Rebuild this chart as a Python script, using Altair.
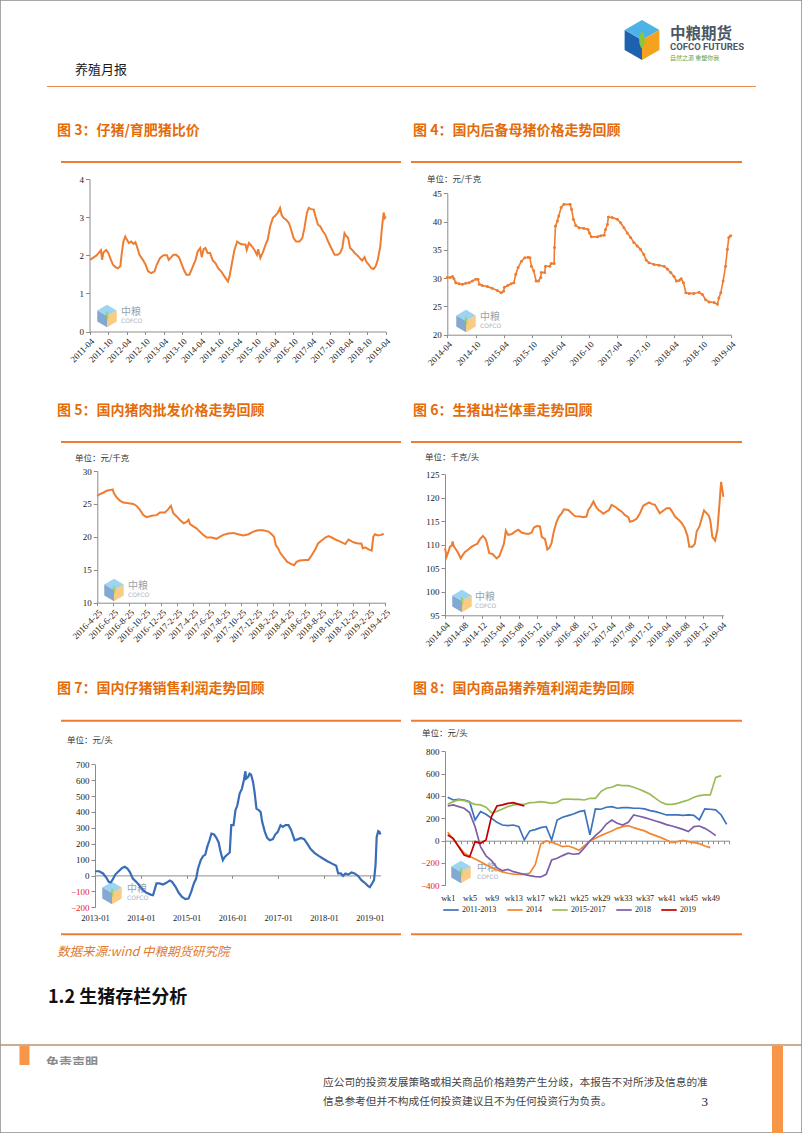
import altair as alt
import pandas as pd

W, H = 802, 1133
SERIF = "Liberation Serif"
CJK = "Noto Sans CJK SC"
AX = "#8C8C8C"
LBL = "#222222"
RED_LBL = "#E8202A"
ORANGE = "#EE7D31"
TITLE_C = "#E46C0A"

# ---------------- data ----------------
# Fig 3: piglet / fattening pig price ratio (x: months since 2011-04)
f3_m = [0.2, 1.1, 2.2, 3.0, 3.7, 4.1, 4.5, 5.4, 6.1, 6.7,
        7.6, 8.4, 9.2, 10.0, 10.4, 11.0, 11.6, 12.1, 12.8, 13.5,
        14.3, 14.9, 15.4, 16.2, 17.3, 18.2, 19.0, 20.0, 21.1, 21.8,
        22.9, 24.0, 25.1, 25.7, 26.5, 27.2, 28.1, 29.0, 29.8, 30.6,
        31.4, 32.4, 33.3, 34.4, 35.1, 35.9, 36.4, 37.0, 37.6, 38.3,
        39.1, 40.0, 40.9, 41.7, 42.7, 43.8, 44.9, 45.4, 46.2, 47.0,
        47.9, 48.9, 49.7, 50.6, 51.0, 51.7, 52.5, 53.5, 54.3, 54.7,
        55.4, 56.2, 57.1, 57.8, 58.6, 59.5, 60.3, 61.1, 61.8, 62.3,
        62.9, 63.8, 64.7, 65.4, 66.2, 67.0, 68.1, 69.0, 69.7, 70.5,
        71.1, 71.9, 72.7, 73.3, 74.1, 74.8, 75.7, 76.5, 77.4, 78.4,
        79.5, 80.5, 81.3, 82.0, 82.7, 83.2, 83.9, 84.5, 85.2, 86.0,
        86.7, 87.6, 88.4, 89.2, 89.7, 90.6, 91.4, 92.1, 92.8, 93.5,
        94.3, 94.9, 95.4, 95.8, 96.1]
f3_v = [1.88, 1.93, 1.99, 2.06, 2.13, 1.88, 2.07, 2.14, 2.06, 1.93,
        1.75, 1.69, 1.66, 1.71, 2.01, 2.36, 2.49, 2.41, 2.32, 2.36,
        2.30, 2.34, 2.23, 2.01, 1.88, 1.75, 1.58, 1.53, 1.58, 1.75,
        1.93, 2.00, 2.00, 1.88, 1.95, 2.01, 2.01, 1.95, 1.79, 1.62,
        1.49, 1.49, 1.66, 1.88, 2.10, 2.19, 1.95, 2.16, 2.19, 2.06,
        2.06, 1.86, 1.79, 1.66, 1.58, 1.44, 1.31, 1.44, 1.79, 2.14,
        2.36, 2.30, 2.28, 2.28, 2.14, 2.32, 2.25, 2.14, 2.01, 2.16,
        1.93, 2.07, 2.28, 2.41, 2.76, 2.98, 3.04, 3.12, 3.24, 3.06,
        2.98, 2.93, 2.84, 2.67, 2.45, 2.36, 2.36, 2.45, 2.71, 3.11,
        3.24, 3.21, 3.20, 3.02, 2.80, 2.76, 2.63, 2.54, 2.36, 2.19,
        2.01, 2.01, 2.06, 2.19, 2.58, 2.51, 2.45, 2.19, 2.14, 2.06,
        2.01, 1.93, 1.86, 1.95, 1.84, 1.75, 1.66, 1.64, 1.71, 1.88,
        2.23, 2.76, 3.12, 2.98, 3.02]
f3_ticks = ["2011-04", "2011-10", "2012-04", "2012-10", "2013-04", "2013-10",
            "2014-04", "2014-10", "2015-04", "2015-10", "2016-04", "2016-10",
            "2017-04", "2017-10", "2018-04", "2018-10", "2019-04"]

# Fig 4: gilt price (x: months since 2014-04)
f4_m = [0, 0.6, 1.1, 1.4, 1.8, 2.5, 3.2, 3.9, 4.6, 5.3,
        6.0, 6.5, 6.8, 7.4, 8.5, 9.5, 10.6, 11.4, 11.9, 12.1,
        12.8, 13.5, 14.1, 14.5, 15.0, 15.7, 16.4, 17.1, 17.5, 17.8,
        18.3, 18.8, 19.3, 19.8, 19.9, 20.6, 20.8, 21.7, 22.0, 22.6,
        22.7, 22.9, 23.3, 23.6, 24.1, 24.7, 26.0, 26.3, 26.7, 27.2,
        27.9, 28.9, 29.8, 30.1, 30.5, 31.8, 32.5, 33.2, 33.5, 33.9,
        34.1, 34.9, 36.0, 36.7, 37.4, 38.1, 38.8, 39.5, 40.2, 40.9,
        41.6, 42.1, 42.7, 43.8, 44.8, 45.9, 46.6, 47.3, 48.0, 48.5,
        49.1, 49.5, 50.0, 50.5, 51.2, 52.2, 53.3, 54.0, 54.7, 55.4,
        56.5, 57.2, 57.5, 57.9, 58.4, 58.9, 59.3, 59.6, 60.0]
f4_v = [30.1, 30.1, 30.3, 29.9, 29.2, 29.0, 28.9, 29.1, 29.2, 29.5,
        29.8, 29.8, 28.9, 28.7, 28.5, 28.2, 27.8, 27.4, 27.7, 28.4,
        28.7, 29.0, 29.2, 30.7, 31.9, 33.0, 33.6, 33.7, 33.6, 32.1,
        31.3, 29.5, 29.5, 30.1, 31.0, 31.0, 32.1, 32.1, 32.6, 32.6,
        35.4, 39.2, 40.1, 41.0, 42.5, 43.05, 43.05, 42.2, 40.4, 39.3,
        38.9, 38.8, 38.6, 38.0, 37.3, 37.3, 37.5, 37.6, 38.6, 39.5,
        40.8, 40.7, 40.4, 39.8, 38.9, 38.0, 37.2, 36.3, 35.7, 35.1,
        34.2, 33.2, 32.7, 32.4, 32.3, 32.1, 31.6, 31.0, 30.3, 29.5,
        29.6, 29.9, 29.2, 27.4, 27.3, 27.3, 27.5, 27.1, 26.2, 25.8,
        25.7, 25.4, 26.5, 27.4, 29.5, 32.1, 35.1, 37.2, 37.5]
f4_ticks = ["2014-04", "2014-10", "2015-04", "2015-10", "2016-04", "2016-10",
            "2017-04", "2017-10", "2018-04", "2018-10", "2019-04"]

# Fig 5: pork wholesale price (x: months since 2016-4-25)
f5_m = [0, 0.33, 0.75, 1.17, 1.58, 1.92, 2.08, 2.42, 2.83, 3.25,
        3.88, 4.5, 4.92, 5.33, 5.75, 6.17, 6.79, 7.42, 7.83, 8.46,
        8.88, 9.2, 9.5, 9.92, 10.3, 10.8, 11.2, 11.4, 11.6, 12.0,
        12.4, 12.8, 13.25, 13.7, 14.3, 14.9, 15.3, 15.75, 16.4, 17.0,
        17.6, 18.25, 18.9, 19.5, 20.1, 20.75, 21.4, 21.8, 22.1, 22.3,
        22.6, 22.9, 23.3, 23.75, 24.2, 24.6, 24.9, 25.3, 26.0, 26.4,
        26.8, 27.2, 27.6, 28.0, 28.5, 28.9, 29.3, 29.75, 30.3, 31.0,
        31.4, 31.8, 32.2, 32.6, 33.0, 33.2, 33.5, 33.9, 34.3, 34.5,
        34.7, 35.1, 35.5, 35.8]
f5_v = [26.2, 26.5, 26.7, 27.0, 27.1, 27.2, 26.6, 26.0, 25.5, 25.2,
        25.1, 25.0, 24.7, 24.1, 23.3, 23.0, 23.2, 23.3, 23.7, 23.7,
        24.2, 24.7, 23.6, 23.1, 22.6, 22.05, 22.3, 22.6, 21.95, 21.6,
        21.3, 20.8, 20.3, 19.9, 19.9, 19.7, 20.0, 20.3, 20.5, 20.6,
        20.4, 20.2, 20.4, 20.8, 21.0, 21.0, 20.8, 20.4, 20.0, 18.8,
        18.25, 17.5, 16.9, 16.2, 15.9, 15.7, 16.2, 16.4, 16.5, 16.5,
        17.2, 18.0, 19.0, 19.4, 19.9, 20.1, 19.9, 19.6, 19.3, 18.9,
        19.6, 19.3, 19.1, 19.0, 19.0, 18.25, 18.4, 18.1, 17.9, 20.0,
        20.4, 20.2, 20.3, 20.5]
f5_ticks = ["2016-4-25", "2016-6-25", "2016-8-25", "2016-10-25", "2016-12-25",
            "2017-2-25", "2017-4-25", "2017-6-25", "2017-8-25", "2017-10-25",
            "2017-12-25", "2018-2-25", "2018-4-25", "2018-6-25", "2018-8-25",
            "2018-10-25", "2018-12-25", "2019-2-25", "2019-4-25"]

# Fig 6: slaughter weight (x: months since 2014-04)
f6_m = [0, 0.36, 0.72, 1.08, 1.45, 1.66, 1.95, 2.39, 2.9, 3.4,
        3.83, 4.34, 5.06, 5.78, 6.5, 7.0, 7.6, 8.2, 8.7, 9.0,
        9.6, 10.3, 11.2, 11.8, 12.3, 12.8, 13.2, 13.7, 14.5, 15.2,
        15.9, 16.6, 17.35, 18.1, 18.8, 19.3, 19.9, 20.6, 21.0, 21.7,
        22.2, 22.6, 23.1, 23.6, 24.2, 24.8, 25.3, 25.8, 26.75, 27.5,
        28.2, 29.3, 30.0, 30.7, 31.1, 31.6, 32.2, 32.75, 33.3, 33.8,
        34.35, 35.1, 35.6, 36.15, 36.9, 37.6, 38.3, 39.0, 39.8, 40.1,
        40.85, 41.6, 42.3, 43.0, 43.7, 44.3, 44.8, 45.55, 46.1, 46.6,
        47.4, 48.1, 48.8, 49.4, 49.9, 50.6, 51.3, 52.05, 52.6, 53.0,
        53.7, 54.2, 54.6, 55.2, 55.7, 56.2, 56.8, 57.3, 57.6, 58.0,
        58.6, 59.1, 59.5, 59.9, 60.4]
f6_v = [109.3, 107.5, 108.5, 109.6, 109.8, 110.7, 109.6, 109.0, 108.2, 107.1,
        107.8, 108.5, 109.0, 109.6, 110.0, 110.2, 111.2, 111.9, 111.4, 110.7,
        108.2, 108.05, 107.1, 107.6, 108.9, 110.3, 113.0, 112.1, 112.3, 112.8,
        113.2, 112.6, 112.4, 112.3, 112.6, 113.7, 114.0, 113.9, 111.7, 111.2,
        109.0, 109.3, 110.3, 112.8, 114.9, 116.1, 116.7, 117.55, 117.4, 116.7,
        116.1, 116.0, 115.85, 116.0, 117.4, 118.1, 119.2, 118.1, 117.4, 117.1,
        116.6, 117.1, 117.4, 118.5, 118.1, 117.55, 117.1, 116.35, 115.85, 114.9,
        115.1, 115.6, 116.7, 118.3, 118.7, 119.0, 118.7, 118.5, 117.55, 116.7,
        117.3, 117.8, 117.8, 116.85, 116.0, 115.4, 114.7, 113.5, 111.9, 109.6,
        109.6, 110.2, 112.8, 113.9, 115.6, 117.3, 116.7, 116.1, 114.9, 111.7,
        110.9, 113.2, 118.1, 123.4, 120.2]
f6_ticks = ["2014-04", "2014-08", "2014-12", "2015-04", "2015-08", "2015-12",
            "2016-04", "2016-08", "2016-12", "2017-04", "2017-08", "2017-12",
            "2018-04", "2018-08", "2018-12", "2019-04"]

# Fig 7: piglet sales profit (x: months since 2013-01)
f7_m = [0, 1.1, 2.1, 3.0, 3.6, 4.1, 4.7, 5.3, 6.2, 7.1,
        7.8, 8.5, 9.1, 9.9, 10.8, 11.7, 12.6, 13.5, 14.6, 15.2,
        15.6, 16.1, 16.9, 17.8, 18.7, 19.6, 20.2, 21.1, 21.9, 22.8,
        23.7, 24.5, 25.2, 25.9, 26.5, 27.0, 27.7, 28.3, 28.9, 29.4,
        30.0, 30.5, 31.2, 31.8, 32.4, 32.9, 33.5, 34.0, 34.7, 35.3,
        35.7, 36.3, 36.8, 37.3, 37.9, 38.5, 39.0, 39.4, 39.6, 40.1,
        40.5, 40.9, 41.4, 41.8, 42.3, 42.9, 43.4, 43.8, 44.5, 45.1,
        45.8, 46.6, 47.2, 47.9, 48.6, 49.2, 49.9, 50.7, 51.4, 52.3,
        53.2, 54.0, 54.8, 55.6, 56.5, 57.5, 58.6, 59.7, 60.9, 62.1,
        63.2, 63.7, 64.4, 65.0, 65.6, 66.3, 67.2, 68.0, 68.9, 69.8,
        70.6, 71.5, 72.0, 72.6, 73.1, 73.5, 73.8, 74.2, 74.5, 74.8]
f7_v = [27, 27, 13, -15, -40, -44, -23, 6, 27, 48,
        55, 44, 23, -19, -40, -65, -92, -109, -120, -124,
        -92, -50, -50, -57, -46, -31, -40, -71, -107, -134,
        -149, -145, -103, -50, -19, 44, 96, 122, 132, 180,
        222, 264, 258, 237, 208, 149, 96, 117, 132, 145,
        317, 317, 411, 442, 516, 547, 600, 656, 610, 620,
        641, 635, 589, 526, 421, 411, 400, 338, 275, 237,
        222, 229, 258, 275, 317, 306, 317, 317, 285, 222,
        229, 237, 229, 201, 166, 143, 124, 107, 90, 75,
        61, 13, 13, -2, 13, 6, 19, 13, -2, -29,
        -44, -65, -73, -50, -29, 65, 243, 279, 275, 258]
f7_ticks = ["2013-01", "2014-01", "2015-01", "2016-01", "2017-01", "2018-01", "2019-01"]

# Fig 8: hog farming profit by week
f8_names = ["2011-2013", "2014", "2015-2017", "2018", "2019"]
f8_colors = ["#3D73BD", "#F4862F", "#9BBB59", "#7D5EA8", "#C00000"]
s_2011_2013 = [388, 364, 370, 364, 349, 185, 260, 236, 200, 164,
               140, 134, 140, 125, 6, 87, 99, 116, 125, 6,
               185, 209, 224, 239, 260, 269, 51, 284, 281, 299,
               305, 290, 296, 296, 290, 290, 284, 269, 260, 245,
               230, 230, 230, 227, 230, 227, 185, 284, 281, 275,
               230, 146]
s_2014 = [75, 10, -50, -110, -140, -165, -190, -215, -240, -262,
          -280, -292, -300, -303, -302, -290, -215, -30, -3, -15,
          -33, -54, -48, -63, -87, -45, -3, 21, 45, 66,
          87, 110, 125, 134, 116, 101, 87, 63, 45, 27,
          6, -18, -9, 3, -9, -18, -27, -48, -63]
s_2015_2017 = [325, 349, 364, 358, 343, 325, 320, 299, 250, 262,
               284, 305, 320, 325, 325, 340, 343, 349, 343, 334,
               343, 370, 373, 370, 370, 364, 379, 379, 439, 469,
               478, 499, 493, 493, 478, 460, 439, 415, 379, 343,
               325, 325, 334, 349, 364, 388, 403, 409, 409, 567,
               582]
s_2018 = [310, 320, 305, 290, 251, 125, -54, -137, -179, -242,
          -269, -257, -278, -290, -302, -314, -322, -325, -302, -173,
          -158, -134, -113, -122, -116, -63, -3, 45, 87, 149,
          185, 155, 140, 164, 230, 218, 206, 191, 176, 161,
          143, 131, 116, 101, 81, 125, 131, 110, 81, 45]
s_2019 = [51, 21, -54, -128, -146, -9, -24, 6, 215, 310,
          320, 334, 340, 325, 310]
f8_series = [s_2011_2013, s_2014, s_2015_2017, s_2018, s_2019]

# ---------------- helpers ----------------
one = pd.DataFrame({"k": [0]})
layers = []


def text(s, x, y, size, color="#222222", font=CJK, weight="normal",
         align="left", baseline="middle", style="normal", opacity=1.0):
    layers.append(
        alt.Chart(pd.DataFrame({"t": [s]}))
        .mark_text(align=align, baseline=baseline, font=font, fontSize=size,
                   fontWeight=weight, fontStyle=style, color=color, opacity=opacity)
        .encode(x=alt.value(x), y=alt.value(y), text="t:N")
    )


def hline(x1, x2, y, color, width):
    layers.append(
        alt.Chart(one).mark_rule(color=color, strokeWidth=width)
        .encode(x=alt.value(x1), x2=alt.value(x2), y=alt.value(y))
    )


def box(x1, x2, y1, y2, color):
    layers.append(
        alt.Chart(one).mark_rect(color=color)
        .encode(x=alt.value(x1), x2=alt.value(x2), y=alt.value(y1), y2=alt.value(y2))
    )


FACES = [
    ("M-0.87,-0.5L0,0L0,1L-0.87,0.5Z", "#1D62AE"),
    ("M0,-1L0.87,-0.5L0,0L-0.87,-0.5Z", "#4DB3E6"),
    ("M0,0L0.87,-0.5L0.87,0.5L0,1Z", "#F5A21E"),
    ("M0,-0.75C0.32,-0.3 0.32,0.3 0,0.75C-0.32,0.3 -0.32,-0.3 0,-0.75Z", "#8CC63F"),
]


def cube(cx, cy, size, opacity):
    for i, (path, col) in enumerate(FACES):
        sz = size * (0.35 if i == 3 else 1.0)
        layers.append(
            alt.Chart(one).mark_point(shape=path, filled=True, color=col,
                                      strokeWidth=0, size=sz, opacity=opacity)
            .encode(x=alt.value(cx), y=alt.value(cy))
        )


def watermark(cx, cy, tx):
    cube(cx, cy, 500, 0.55)
    text("中粮", tx, cy - 4, 10, color="#7F8C99", opacity=0.8)
    text("COFCO", tx, cy + 5, 6, color="#8FA0B0", font="DejaVu Sans", opacity=0.8)


def sc(dom, rng):
    return alt.Scale(domain=dom, range=rng, nice=False, zero=False)


def yax(xpx, vals, size=9, neg_red=False):
    color = LBL
    if neg_red:
        color = {"condition": {"test": "datum.value < 0", "value": RED_LBL}, "value": LBL}
    return alt.Axis(orient="left", offset=-xpx, values=vals, title=None, grid=False,
                    domainColor=AX, domainWidth=1, tickColor=AX, tickWidth=1, tickSize=4,
                    labelFont=SERIF, labelFontSize=size, labelColor=color, labelPadding=2,
                    labelFlush=False, labelOverlap=False)


def lab_expr(labels, start, step):
    arr = ",".join("'" + s + "'" for s in labels)
    return "[" + arr + "][round((datum.value - " + str(start) + ") / " + str(step) + ")]"


def xax(ypx, vals, expr, angle=-45, size=9, pad=2, tick=3, loff=0):
    kw = dict(orient="bottom", offset=ypx - H, values=vals, title=None, grid=False,
              domainColor=AX, domainWidth=1, tickColor=AX, tickWidth=1, tickSize=tick,
              labelFont=SERIF, labelFontSize=size, labelColor=LBL, labelPadding=pad,
              labelFlush=False, labelOverlap=False, labelExpr=expr, labelOffset=loff,
              labelAngle=angle)
    if angle != 0:
        kw["labelAlign"] = "right"
    return alt.Axis(**kw)


def series(m, v, xs, ys, x_axis, y_axis, color, width):
    df = pd.DataFrame({"m": m, "v": v})
    return alt.Chart(df).mark_line(color=color, strokeWidth=width).encode(
        x=alt.X("m:Q", scale=xs, axis=x_axis),
        y=alt.Y("v:Q", scale=ys, axis=y_axis),
    )


# ---------------- page decoration ----------------
text("养殖月报", 75, 70, 13, color="#1A1A1A")
hline(47, 756, 86.5, "#EC8A4A", 1.2)
cube(642, 40, 1600, 1.0)
text("中粮期货", 670, 33.5, 15.5, color="#4B5866", weight="bold")
text("COFCO FUTURES", 670, 47, 9.5, color="#4B5866", font="Roboto", weight="bold")
text("自然之源   重塑你我", 670, 57.5, 6, color="#6BA34A")

# titles and rules
text("图 3：仔猪/育肥猪比价", 57, 131, 14, color=TITLE_C, weight="bold")
text("图 4：国内后备母猪价格走势回顾", 413, 131, 14, color=TITLE_C, weight="bold")
text("图 5：国内猪肉批发价格走势回顾", 57, 411, 14, color=TITLE_C, weight="bold")
text("图 6：生猪出栏体重走势回顾", 413, 411, 14, color=TITLE_C, weight="bold")
text("图 7：国内仔猪销售利润走势回顾", 57, 689, 14, color=TITLE_C, weight="bold")
text("图 8：国内商品猪养殖利润走势回顾", 413, 689, 14, color=TITLE_C, weight="bold")
for yy in (162, 442, 720.7):
    hline(61, 401, yy, "#EE7D31", 2)
    hline(411, 742, yy, "#EE7D31", 2)
hline(61, 401, 934.3, "#EE7D31", 2)
hline(411, 742, 934.3, "#EE7D31", 2)

text("单位：元/千克", 427, 179, 8.5, color="#333333")
text("单位：元/千克", 75, 457.7, 8.5, color="#333333")
text("单位：千克/头", 425, 457, 8.5, color="#333333")
text("单位：元/头", 67, 740, 8.5, color="#333333")
text("单位：元/头", 422, 733, 8.5, color="#333333")

text("数据来源:wind  中粮期货研究院", 57, 951.7, 12.5, color="#E07A2E", style="italic")
text("1.2 生猪存栏分析", 48, 998, 18, color="#111111", weight="bold")

hline(0, 802, 1045, "#B9926E", 1.5)
text("免责声明", 46, 1063, 13, color="#8A8A8A", weight="bold")
box(32, 770, 1065, 1132, "#FFFFFF")
box(19.5, 29.5, 1046, 1065, "#F79646")
box(772, 783, 1046, 1133, "#F79646")
text("应公司的投资发展策略或相关商品价格趋势产生分歧，本报告不对所涉及信息的准", 323, 1083, 10.7, color="#444444")
text("信息参考但并不构成任何投资建议且不为任何投资行为负责。", 323, 1102, 10.7, color="#444444")
text("3", 708, 1102, 13, color="#222222", font=SERIF, align="right")

# watermarks in charts
watermark(107, 316, 121)
watermark(466, 321, 480)
watermark(114, 590, 128)
watermark(462, 601, 475)
watermark(112, 893, 127)
watermark(461, 872, 477)

# ---------------- charts ----------------
# Fig 3
xs3, ys3 = sc([0, 96], [89.5, 385.5]), sc([0, 4], [331.5, 179.0])
layers.append(series(f3_m, f3_v, xs3, ys3,
                     xax(331.5, list(range(0, 97, 6)), lab_expr(f3_ticks, 0, 6)),
                     yax(89.5, [0, 1, 2, 3, 4]), ORANGE, 2))

# Fig 4
xs4, ys4 = sc([0, 60], [447.3, 730.7]), sc([20, 45], [334.7, 193.3])
layers.append(series(f4_m, f4_v, xs4, ys4,
                     xax(334.7, list(range(0, 61, 6)), lab_expr(f4_ticks, 0, 6)),
                     yax(447.3, [20, 25, 30, 35, 40, 45]), ORANGE, 1.6))
layers.append(
    alt.Chart(pd.DataFrame({"m": f4_m, "v": f4_v}))
    .mark_point(filled=True, color=ORANGE, size=9, opacity=1)
    .encode(x=alt.X("m:Q", scale=xs4, axis=None), y=alt.Y("v:Q", scale=ys4, axis=None))
)

# Fig 5
xs5, ys5 = sc([0, 36], [97.3, 385.3]), sc([10, 30], [602.7, 471.0])
layers.append(series(f5_m, f5_v, xs5, ys5,
                     xax(602.7, list(range(0, 37, 2)), lab_expr(f5_ticks, 0, 2)),
                     yax(97.3, [10, 15, 20, 25, 30]), ORANGE, 2))

# Fig 6
xs6, ys6 = sc([0, 60.4], [445, 723.4]), sc([95, 125], [615.3, 474.3])
layers.append(series(f6_m, f6_v, xs6, ys6,
                     xax(615.3, list(range(0, 61, 4)), lab_expr(f6_ticks, 0, 4)),
                     yax(445, [95, 100, 105, 110, 115, 120, 125]), ORANGE, 2))

# Fig 7
xs7, ys7 = sc([0, 74.8], [95, 380.5]), sc([-200, 700], [907.3, 764.3])
layers.append(series(f7_m, f7_v, xs7, ys7,
                     xax(875.4, list(range(0, 73, 12)), lab_expr(f7_ticks, 0, 12),
                         angle=0, size=8.5, pad=35.5, tick=3),
                     yax(95, list(range(-200, 701, 100)), neg_red=True), "#3A6DB8", 2.2))

# Fig 8
rows = []
for name, vals in zip(f8_names, f8_series):
    for i, val in enumerate(vals):
        rows.append({"w": i + 1, "v": val, "s": name})
df8 = pd.DataFrame(rows)
xs8, ys8 = sc([0.5, 52.5], [445, 729.4]), sc([-400, 800], [885.3, 751.3])
wk_expr = "datum.value < 50 && (datum.value - 0.5) % 4 == 0 ? 'wk' + (datum.value + 0.5) : ''"
layers.append(
    alt.Chart(df8).mark_line(strokeWidth=1.7).encode(
        x=alt.X("w:Q", scale=xs8,
                axis=xax(840.7, [0.5 + i for i in range(53)], wk_expr, angle=0,
                         size=8.2, pad=50.5, tick=3, loff=2.7)),
        y=alt.Y("v:Q", scale=ys8, axis=yax(445, list(range(-400, 801, 200)), neg_red=True)),
        color=alt.Color("s:N", sort=f8_names,
                        scale=alt.Scale(domain=f8_names, range=f8_colors),
                        legend=alt.Legend(orient="none", legendX=442, legendY=901,
                                          direction="horizontal", title=None,
                                          symbolType="stroke", symbolSize=240,
                                          symbolStrokeWidth=2, labelFont=SERIF,
                                          labelFontSize=8, labelColor=LBL,
                                          labelOffset=2, columnPadding=6)),
        strokeWidth=alt.StrokeWidth("s:N", scale=alt.Scale(domain=f8_names,
                                    range=[1.7, 1.7, 1.7, 1.7, 2.8]), legend=None),
    )
)

chart = (
    alt.layer(*layers)
    .resolve_scale(x="independent", y="independent", color="independent",
                   strokeWidth="independent")
    .properties(width=W, height=H, autosize=alt.AutoSizeParams(type="none"), padding=0,
                background="#FFFFFF")
    .configure_view(stroke="#8B8B8B", strokeWidth=1.5)
)

chart.save("out.html", embed_options={"renderer": "svg", "actions": False})
